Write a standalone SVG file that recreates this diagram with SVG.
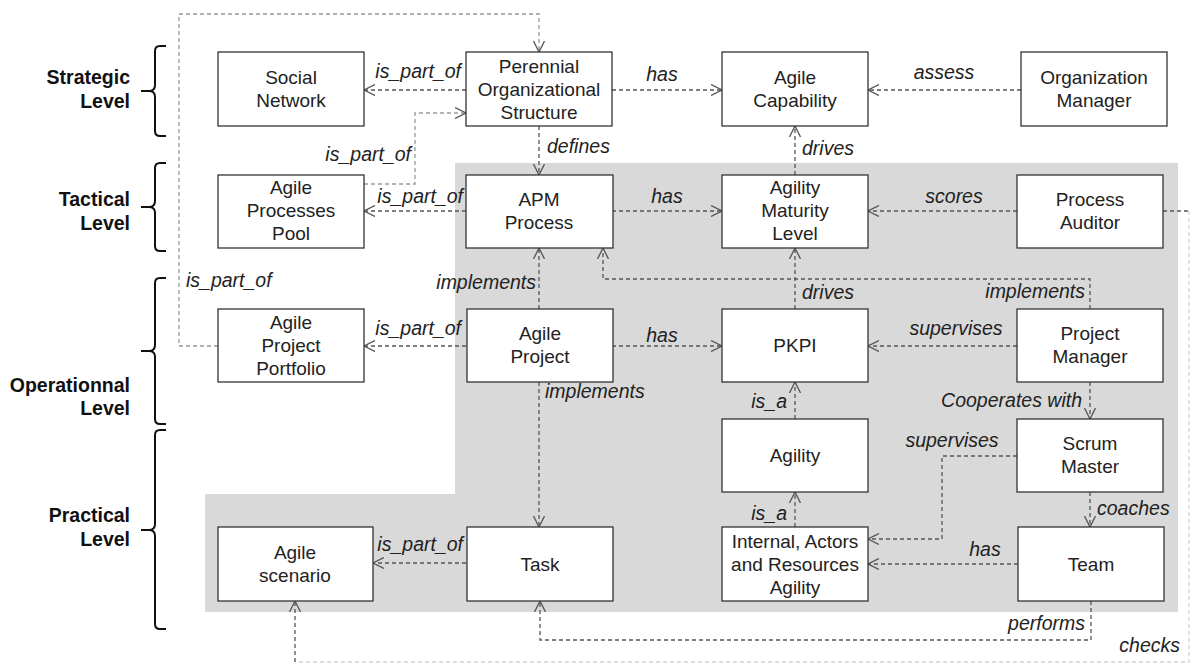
<svg xmlns="http://www.w3.org/2000/svg" width="1190" height="664" viewBox="0 0 1190 664">
<defs>
<marker id="arr" viewBox="0 0 12 12" refX="11" refY="6" markerWidth="12" markerHeight="12" orient="auto" markerUnits="userSpaceOnUse">
<path d="M0,0.5 L11,6 L0,11.5" fill="none" stroke="#555" stroke-width="1.3"/>
</marker>
<style>
.box{fill:#fff;stroke:#333;stroke-width:1.3}
.nt{font-family:"Liberation Sans",Arial,sans-serif;font-size:19px;fill:#222;text-anchor:middle}
.el{font-family:"Liberation Sans",Arial,sans-serif;font-size:19.5px;font-style:italic;fill:#222}
.lv{font-family:"Liberation Sans",Arial,sans-serif;font-size:19.5px;font-weight:bold;fill:#111;text-anchor:end}
.c{fill:none;stroke:#555;stroke-width:1.3;stroke-dasharray:4 3}
.cl{fill:none;stroke:#999;stroke-width:1.3;stroke-dasharray:4 3}
.cf{fill:none;stroke:#d4d4d4;stroke-width:1.3;stroke-dasharray:4 3}
.br{fill:none;stroke:#111;stroke-width:2}
</style>
</defs>
<rect width="1190" height="664" fill="#fff"/>
<polygon points="455,163 1178,163 1178,612 205,612 205,494 455,494" fill="#d9d9d9"/>

<g id="levels">
<path class="br" d="M166,46 H160 Q155,46 155,51 V85 Q155,91 149,91 H141 M149,91 Q155,91 155,97 V131 Q155,136 160,136 H166"/>
<text class="lv" x="130" y="84">Strategic</text><text class="lv" x="130" y="108">Level</text>
<path class="br" d="M166,163 H160 Q155,163 155,168 V201 Q155,207 149,207 H141 M149,207 Q155,207 155,213 V246 Q155,251 160,251 H166"/>
<text class="lv" x="130" y="206">Tactical</text><text class="lv" x="130" y="230">Level</text>
<path class="br" d="M166,278 H160 Q155,278 155,283 V345 Q155,351 149,351 H141 M149,351 Q155,351 155,357 V419 Q155,424 160,424 H166"/>
<text class="lv" x="130" y="392">Operationnal</text><text class="lv" x="130" y="415">Level</text>
<path class="br" d="M166,430 H160 Q155,430 155,435 V524 Q155,530 149,530 H141 M149,530 Q155,530 155,536 V624 Q155,629 160,629 H166"/>
<text class="lv" x="130" y="522">Practical</text><text class="lv" x="130" y="546">Level</text>
</g>

<g id="connectors">
<path class="c" d="M466,90 H364" marker-end="url(#arr)"/>
<text class="el" x="461" y="78" text-anchor="end">is_part_of</text>
<path class="c" d="M612,90 H722" marker-end="url(#arr)"/>
<text class="el" x="662" y="81" text-anchor="middle">has</text>
<path class="c" d="M1021,90 H868" marker-end="url(#arr)"/>
<text class="el" x="944" y="79" text-anchor="middle">assess</text>
<path class="c" d="M539,126 V175" marker-end="url(#arr)"/>
<text class="el" x="547" y="153">defines</text>
<path class="c" d="M795,175 V126" marker-end="url(#arr)"/>
<text class="el" x="802" y="155">drives</text>
<path class="c" d="M466,211 H364" marker-end="url(#arr)"/>
<text class="el" x="463" y="203" text-anchor="end">is_part_of</text>
<path class="cl" d="M364,184 H415 V113 H466" marker-end="url(#arr)"/>
<text class="el" x="411" y="161" text-anchor="end">is_part_of</text>
<path class="c" d="M612,211 H722" marker-end="url(#arr)"/>
<text class="el" x="667" y="203" text-anchor="middle">has</text>
<path class="c" d="M1017,211 H868" marker-end="url(#arr)"/>
<text class="el" x="954" y="203" text-anchor="middle">scores</text>
<path class="c" d="M1163,211 H1189"/>
<path class="cf" d="M1189,211 V662 H295"/>
<path class="c" d="M295,662 V601" marker-end="url(#arr)"/>
<text class="el" x="1180" y="652" text-anchor="end">checks</text>
<path class="c" d="M539,309 V248" marker-end="url(#arr)"/>
<text class="el" x="536" y="289" text-anchor="end">implements</text>
<path class="c" d="M1090,309 V279 H603 V248" marker-end="url(#arr)"/>
<text class="el" x="1085" y="298" text-anchor="end">implements</text>
<path class="c" d="M795,309 V248" marker-end="url(#arr)"/>
<text class="el" x="802" y="299">drives</text>
<path class="c" d="M466,346 H364" marker-end="url(#arr)"/>
<text class="el" x="461" y="335" text-anchor="end">is_part_of</text>
<path class="cl" d="M218,346 H179 V14 H539 V52" marker-end="url(#arr)"/>
<text class="el" x="186" y="287">is_part_of</text>
<path class="c" d="M612,346 H722" marker-end="url(#arr)"/>
<text class="el" x="662" y="342" text-anchor="middle">has</text>
<path class="c" d="M1017,346 H868" marker-end="url(#arr)"/>
<text class="el" x="956" y="335" text-anchor="middle">supervises</text>
<path class="c" d="M539,382 V527" marker-end="url(#arr)"/>
<text class="el" x="545" y="398">implements</text>
<path class="c" d="M795,419 V382" marker-end="url(#arr)"/>
<text class="el" x="787" y="408" text-anchor="end">is_a</text>
<path class="c" d="M1090,382 V419" marker-end="url(#arr)"/>
<text class="el" x="1082" y="407" text-anchor="end">Cooperates with</text>
<path class="c" d="M1017,456 H942 V539 H868" marker-end="url(#arr)"/>
<text class="el" x="952" y="447" text-anchor="middle">supervises</text>
<path class="c" d="M795,527 V492" marker-end="url(#arr)"/>
<text class="el" x="787" y="520" text-anchor="end">is_a</text>
<path class="c" d="M1090,492 V527" marker-end="url(#arr)"/>
<text class="el" x="1097" y="515">coaches</text>
<path class="c" d="M1018,564 H868" marker-end="url(#arr)"/>
<text class="el" x="985" y="556" text-anchor="middle">has</text>
<path class="c" d="M466,563 H373" marker-end="url(#arr)"/>
<text class="el" x="463" y="551" text-anchor="end">is_part_of</text>
<path class="c" d="M1091,601 V640 H540 V601" marker-end="url(#arr)"/>
<text class="el" x="1085" y="630" text-anchor="end">performs</text>
</g>

<g id="social-network"><rect class="box" x="218" y="52" width="146" height="74"/><text class="nt" x="291" y="84">Social</text><text class="nt" x="291" y="107">Network</text></g>
<g id="perennial"><rect class="box" x="466" y="52" width="146" height="74"/><text class="nt" x="539" y="73">Perennial</text><text class="nt" x="539" y="96">Organizational</text><text class="nt" x="539" y="119">Structure</text></g>
<g id="agile-capability"><rect class="box" x="722" y="52" width="146" height="74"/><text class="nt" x="795" y="84">Agile</text><text class="nt" x="795" y="107">Capability</text></g>
<g id="organization-manager"><rect class="box" x="1021" y="52" width="146" height="74"/><text class="nt" x="1094" y="84">Organization</text><text class="nt" x="1094" y="107">Manager</text></g>

<g id="agile-processes-pool"><rect class="box" x="218" y="175" width="146" height="73"/><text class="nt" x="291" y="194">Agile</text><text class="nt" x="291" y="217">Processes</text><text class="nt" x="291" y="240">Pool</text></g>
<g id="apm-process"><rect class="box" x="466" y="175" width="147" height="73"/><text class="nt" x="539" y="206">APM</text><text class="nt" x="539" y="229">Process</text></g>
<g id="agility-maturity-level"><rect class="box" x="722" y="175" width="146" height="73"/><text class="nt" x="795" y="194">Agility</text><text class="nt" x="795" y="217">Maturity</text><text class="nt" x="795" y="240">Level</text></g>
<g id="process-auditor"><rect class="box" x="1017" y="175" width="146" height="73"/><text class="nt" x="1090" y="206">Process</text><text class="nt" x="1090" y="229">Auditor</text></g>

<g id="agile-project-portfolio"><rect class="box" x="218" y="309" width="146" height="73"/><text class="nt" x="291" y="329">Agile</text><text class="nt" x="291" y="352">Project</text><text class="nt" x="291" y="375">Portfolio</text></g>
<g id="agile-project"><rect class="box" x="467" y="309" width="146" height="73"/><text class="nt" x="540" y="340">Agile</text><text class="nt" x="540" y="363">Project</text></g>
<g id="pkpi"><rect class="box" x="722" y="309" width="146" height="73"/><text class="nt" x="795" y="352">PKPI</text></g>
<g id="project-manager"><rect class="box" x="1017" y="309" width="146" height="73"/><text class="nt" x="1090" y="340">Project</text><text class="nt" x="1090" y="363">Manager</text></g>

<g id="agility"><rect class="box" x="722" y="419" width="146" height="73"/><text class="nt" x="795" y="462">Agility</text></g>
<g id="scrum-master"><rect class="box" x="1017" y="419" width="146" height="73"/><text class="nt" x="1090" y="450">Scrum</text><text class="nt" x="1090" y="473">Master</text></g>

<g id="agile-scenario"><rect class="box" x="218" y="527" width="155" height="74"/><text class="nt" x="295" y="559">Agile</text><text class="nt" x="295" y="582">scenario</text></g>
<g id="task"><rect class="box" x="467" y="527" width="146" height="74"/><text class="nt" x="540" y="571">Task</text></g>
<g id="internal-actors-resources-agility"><rect class="box" x="722" y="527" width="146" height="74"/><text class="nt" x="795" y="548">Internal, Actors</text><text class="nt" x="795" y="571">and Resources</text><text class="nt" x="795" y="594">Agility</text></g>
<g id="team"><rect class="box" x="1018" y="527" width="146" height="74"/><text class="nt" x="1091" y="571">Team</text></g>
</svg>
